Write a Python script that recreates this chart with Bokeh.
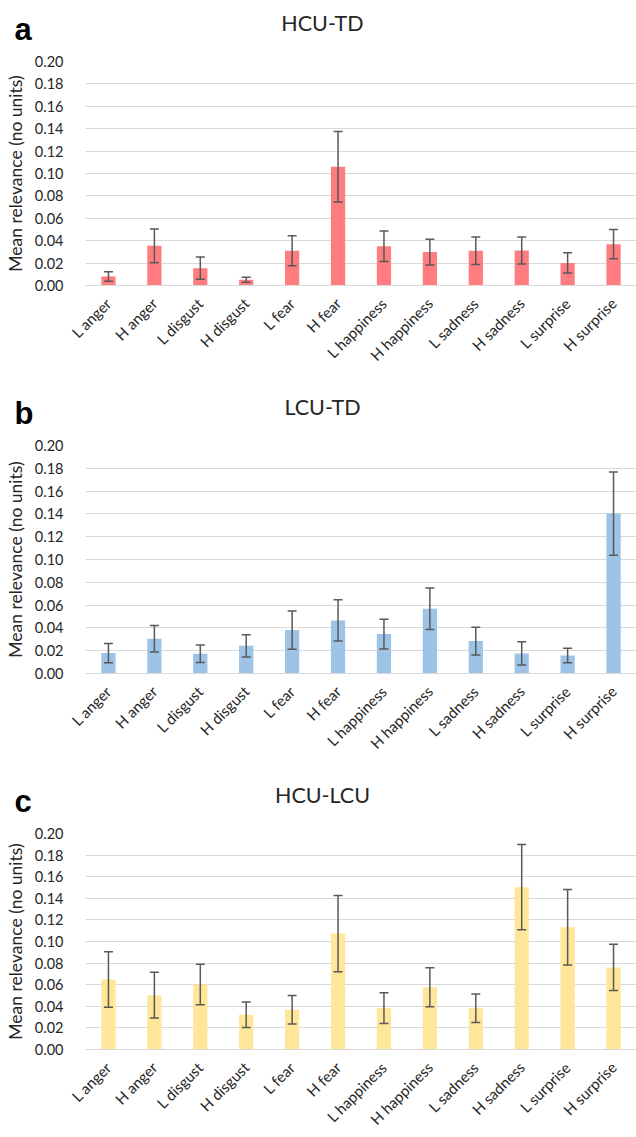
import math
from bokeh.plotting import figure
from bokeh.models import (ColumnDataSource, Whisker, TeeHead, FixedTicker,
                          NumeralTickFormatter, FactorRange)
from bokeh.core.properties import value
from bokeh.layouts import column
from bokeh.embed import file_html
from bokeh.resources import INLINE

categories = ["L anger", "H anger", "L disgust", "H disgust", "L fear", "H fear",
              "L happiness", "H happiness", "L sadness", "H sadness",
              "L surprise", "H surprise"]

# panel a: HCU-TD
hcu_td_mean = [0.0080, 0.0354, 0.0155, 0.0051, 0.0310, 0.1060,
               0.0351, 0.0298, 0.0310, 0.0313, 0.0202, 0.0369]
hcu_td_err = [0.0043, 0.0150, 0.0100, 0.0022, 0.0134, 0.0315,
              0.0136, 0.0115, 0.0122, 0.0121, 0.0091, 0.0131]

# panel b: LCU-TD
lcu_td_mean = [0.0179, 0.0305, 0.0173, 0.0243, 0.0381, 0.0466,
               0.0346, 0.0568, 0.0284, 0.0176, 0.0158, 0.1403]
lcu_td_err = [0.0085, 0.0116, 0.0076, 0.0098, 0.0168, 0.0180,
              0.0130, 0.0182, 0.0121, 0.0102, 0.0063, 0.0365]

# panel c: HCU-LCU
hcu_lcu_mean = [0.0649, 0.0503, 0.0602, 0.0322, 0.0368, 0.1073,
                0.0383, 0.0576, 0.0383, 0.1503, 0.1132, 0.0760]
hcu_lcu_err = [0.0257, 0.0212, 0.0187, 0.0118, 0.0132, 0.0352,
               0.0142, 0.0181, 0.0132, 0.0394, 0.0349, 0.0214]

y_ticks = [0.00, 0.02, 0.04, 0.06, 0.08, 0.10, 0.12, 0.14, 0.16, 0.18, 0.20]

FONT = "Lato"
TEXT = "#262626"
GRID = "#D9D9D9"
ERR = "#595959"


def make_panel(letter, title, mean, err, color, height, frame_h):
    src = ColumnDataSource(dict(
        cat=categories,
        mean=mean,
        upper=[m + e for m, e in zip(mean, err)],
        lower=[m - e for m, e in zip(mean, err)],
    ))
    kw = dict(x_range=FactorRange(*categories), y_range=(0, 0.2),
              width=636, min_border_left=85, min_border_right=0,
              min_border_top=61, output_backend="svg",
              toolbar_location=None)
    if frame_h is not None:
        kw.update(frame_height=frame_h, min_border_bottom=height - 61 - frame_h)
    else:
        kw.update(height=height, min_border_bottom=10)
    p = figure(**kw)
    p.vbar(x="cat", top="mean", width=0.31, source=src,
           fill_color=color, line_color=None)
    w = Whisker(source=src, base="cat", upper="upper", lower="lower",
                line_color=ERR, line_width=1.5, level="annotation")
    w.upper_head = TeeHead(size=9, line_color=ERR, line_width=1.5)
    w.lower_head = TeeHead(size=9, line_color=ERR, line_width=1.5)
    p.add_layout(w)

    # panel letter and chart title, anchored to the top-left corner of the frame
    p.text(x=[0], y=[0.2], text=[letter], x_offset=-71, y_offset=-32,
           text_font=value("Liberation Sans"), text_font_size="31px",
           text_font_style="bold", text_color="black",
           text_baseline="alphabetic", text_align="left", level="overlay")
    p.text(x=[0], y=[0.2], text=[title], x_offset=237, y_offset=-39,
           text_font=value(FONT), text_font_size="21.5px",
           text_color=TEXT, text_baseline="alphabetic", text_align="center",
           level="overlay")

    p.outline_line_color = None
    p.xgrid.grid_line_color = None
    p.ygrid.grid_line_color = GRID
    p.ygrid.grid_line_width = 1

    p.yaxis.ticker = FixedTicker(ticks=y_ticks)
    p.yaxis.formatter = NumeralTickFormatter(format="0.00")
    p.yaxis.axis_line_color = None
    p.yaxis.major_tick_line_color = None
    p.yaxis.minor_tick_line_color = None
    p.yaxis.major_label_standoff = 16
    p.yaxis.major_label_text_font = FONT
    p.yaxis.major_label_text_font_size = "14.5px"
    p.yaxis.major_label_text_color = TEXT
    p.yaxis.axis_label = "Mean relevance (no units)"
    p.yaxis.axis_label_text_font = FONT
    p.yaxis.axis_label_text_font_size = "17.5px"
    p.yaxis.axis_label_text_font_style = "normal"
    p.yaxis.axis_label_text_color = TEXT
    p.yaxis.axis_label_standoff = 6

    p.xaxis.axis_line_color = GRID
    p.xaxis.axis_line_width = 1
    p.xaxis.major_tick_line_color = None
    p.xaxis.major_tick_out = 0
    p.xaxis.major_label_orientation = math.pi / 4
    p.xaxis.major_label_standoff = 15
    p.xaxis.major_label_text_font = FONT
    p.xaxis.major_label_text_font_size = "15px"
    p.xaxis.major_label_text_color = TEXT
    return p


panels = [
    ("a", "HCU-TD", hcu_td_mean, hcu_td_err, "#FF7C80", 384, 224),
    ("b", "LCU-TD", lcu_td_mean, lcu_td_err, "#9DC3E6", 388, 228),
    ("c", "HCU-LCU", hcu_lcu_mean, hcu_lcu_err, "#FFE699", 365, None),
]

plots = [make_panel(*args) for args in panels]
layout = column(*plots, spacing=0)

open("out.html", "w").write(file_html(layout, INLINE))
